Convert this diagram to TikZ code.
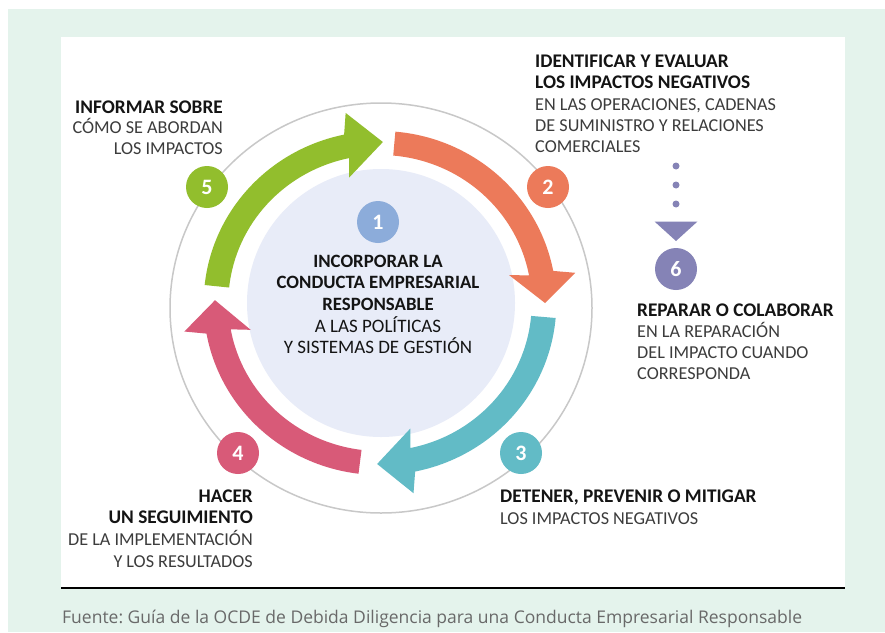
\documentclass[tikz,border=0pt]{standalone}
\usepackage{fontspec}
\setmainfont{Carlito}
\newfontfamily\footfont{Open Sans}
\usetikzlibrary{arrows.meta}
\definecolor{mint}{RGB}{228,243,236}
\definecolor{ringgrey}{RGB}{200,200,200}
\definecolor{innerc}{RGB}{232,236,248}
\definecolor{cgreen}{RGB}{146,190,45}
\definecolor{corange}{RGB}{236,122,90}
\definecolor{cteal}{RGB}{98,187,198}
\definecolor{cpink}{RGB}{216,90,120}
\definecolor{cpurple}{RGB}{133,131,182}
\definecolor{cblue}{RGB}{140,172,218}
\definecolor{textb}{RGB}{20,20,20}
\definecolor{textr}{RGB}{60,60,60}
\definecolor{footgrey}{RGB}{105,105,105}
\frenchspacing
\def\arRo{172}\def\arRi{148}\def\arRm{161}\def\arHo{193}\def\arHi{129}
\newcommand\ringarrow[4]{%
  \fill[#1] (#2:\arRo) arc[start angle=#2, end angle=#3, radius=\arRo]
    -- ({#3-1.75}:\arHo) -- (#4:\arRm) -- ({#3+1.75}:\arHi) -- (#3:\arRi)
    arc[start angle=#3, end angle=#2, radius=\arRi] -- cycle;}
\begin{document}
\begin{tikzpicture}[x=1pt,y=-1pt,
  bl/.style={inner sep=0pt, text=textb, font=\fontsize{19.3}{20}\selectfont\bfseries},
  rl/.style={inner sep=0pt, text=textr, font=\fontsize{18.2}{20}\selectfont},
  cbl/.style={inner sep=0pt, text=textb, font=\fontsize{18.8}{20}\selectfont\bfseries},
  crl/.style={inner sep=0pt, text=textb, font=\fontsize{19}{20}\selectfont},
  num/.style={circle, minimum size=42pt, inner sep=0pt, text=white,
    font=\fontsize{22}{22}\selectfont\bfseries},
  dotline/.style={line width=7pt, line cap=round, dash pattern=on 0pt off 19pt, draw=cpurple}]
\useasboundingbox (0,0) rectangle (885,632);
\fill[white] (0,0) rectangle (885,632);
\fill[mint] (8,9) rectangle (885,632);
\fill[white] (61,37) rectangle (845,588);
\coordinate (ruleL) at (61,588);
\coordinate (ruleR) at (845,588);
\draw[line width=1.5pt, black] (ruleL) -- (ruleR);

% rings
\draw[ringgrey, line width=1.5pt] (381,308) ellipse [x radius=211, y radius=205];
\fill[innerc] (381,303) circle [radius=134];

% arrows
\begin{scope}[shift={(380,303)}, yscale=-1, xscale=1.025]
  \ringarrow{cgreen}{174}{101.75}{89}
  \ringarrow{corange}{85}{10.75}{0}
  \ringarrow{cteal}{-5}{-78.5}{-91}
  \ringarrow{cpink}{263}{190.25}{179}
\end{scope}

% number circles
\node[num, fill=cblue]   (n1) at (378,222) {1};
\node[num, fill=corange] (n2) at (548,187) {2};
\node[num, fill=cteal]   (n3) at (521,453) {3};
\node[num, fill=cpink]   (n4) at (238,453) {4};
\node[num, fill=cgreen]  (n5) at (207,187) {5};
\node[num, fill=cpurple] (n6) at (676,269) {6};

% dotted connector to 6
\coordinate (dtop) at (676,166);
\coordinate (dend) at (676,206);
\draw[dotline] (dtop) -- (dend);
\fill[cpurple] (654.5,221.5) -- (697.5,221.5) -- (676,241) -- cycle;

% center text
\node[cbl, anchor=base] (c1) at (378,267) {INCORPORAR LA};
\node[cbl, anchor=base] (c2) at (378,288) {CONDUCTA EMPRESARIAL};
\node[cbl, anchor=base] (c3) at (378,310) {RESPONSABLE};
\node[crl, anchor=base] (c4) at (378,332) {A LAS POLÍTICAS};
\node[crl, anchor=base] (c5) at (378,353) {Y SISTEMAS DE GESTIÓN};

% step 2 text
\node[bl, anchor=base west] (a1) at (535,67) {IDENTIFICAR Y EVALUAR};
\node[bl, anchor=base west] (a2) at (535,88) {LOS IMPACTOS NEGATIVOS};
\node[rl, anchor=base west] (a3) at (535,110) {EN LAS OPERACIONES, CADENAS};
\node[rl, anchor=base west] (a4) at (535,131) {DE SUMINISTRO Y RELACIONES};
\node[rl, anchor=base west] (a5) at (535,152) {COMERCIALES};

% step 6 text
\node[bl, anchor=base west] (f1) at (637,316) {REPARAR O COLABORAR};
\node[rl, anchor=base west] (f2) at (637,337) {EN LA REPARACIÓN};
\node[rl, anchor=base west] (f3) at (637,358) {DEL IMPACTO CUANDO};
\node[rl, anchor=base west] (f4) at (637,379) {CORRESPONDA};

% step 5 text
\node[bl, anchor=base east] (e1) at (223,113) {INFORMAR SOBRE};
\node[rl, anchor=base east] (e2) at (223,133.5) {CÓMO SE ABORDAN};
\node[rl, anchor=base east] (e3) at (223,154) {LOS IMPACTOS};

% step 4 text
\node[bl, anchor=base east] (d1) at (253,502) {HACER};
\node[bl, anchor=base east] (d2) at (253,523) {UN SEGUIMIENTO};
\node[rl, anchor=base east] (d3) at (253,545) {DE LA IMPLEMENTACIÓN};
\node[rl, anchor=base east] (d4) at (253,567) {Y LOS RESULTADOS};

% step 3 text
\node[bl, anchor=base west] (b1) at (500,502) {DETENER, PREVENIR O MITIGAR};
\node[rl, anchor=base west] (b2) at (500,524) {LOS IMPACTOS NEGATIVOS};

% footer
\node[inner sep=0pt, anchor=base west, text=footgrey, font=\footfont\fontsize{17.5}{20}\selectfont] (src) at (62,623)
  {Fuente: Guía de la OCDE de Debida Diligencia para una Conducta Empresarial Responsable};
\end{tikzpicture}
\end{document}
